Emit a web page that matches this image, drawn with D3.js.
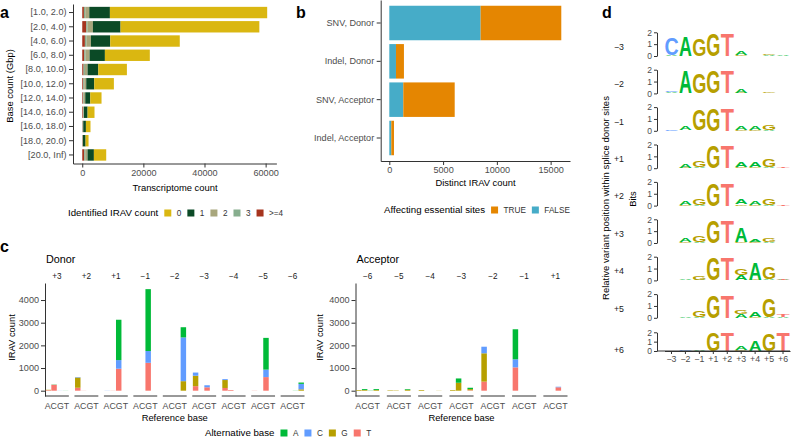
<!DOCTYPE html>
<html><head><meta charset="utf-8">
<script src="https://cdn.jsdelivr.net/npm/d3@7"></script>
<style>body{margin:0;background:#fff;} svg{display:block;}</style>
</head><body>
<script>
// ---------- data ----------
// panel a
const sizeBins = ["[1.0, 2.0)","[2.0, 4.0)","[4.0, 6.0)","[6.0, 8.0)","[8.0, 10.0)","[10.0, 12.0)","[12.0, 14.0)","[14.0, 16.0)","[16.0, 18.0)","[18.0, 20.0)","[20.0, Inf)"];
const irav0 = [51460, 45415, 22750, 14700, 9370, 6430, 3690, 2260, 1500, 970, 4030];
const irav1 = [6750, 9040, 6320, 5010, 3490, 2610, 1630, 1200, 870, 870, 2070];
const irav2 = [1310, 1740, 1420, 1310, 870, 650, 550, 220, 110, 60, 760];
const irav3 = [440, 440, 550, 440, 440, 330, 220, 110, 110, 50, 330];
const irav4 = [550, 1310, 870, 650, 440, 330, 220, 220, 110, 110, 650];
const iravKeys = ["0", "1", "2", "3", ">=4"];
const aTicks = [0, 20000, 40000, 60000];

// panel b
const variantTypes = ["SNV, Donor", "Indel, Donor", "SNV, Acceptor", "Indel, Acceptor"];
const essentialFalse = [8490, 620, 1300, 185];
const essentialTrue = [7500, 740, 4780, 250];
const bTicks = [0, 5000, 10000, 15000];

// panel c
const bases = ["A", "C", "G", "T"];
const donorPositions = ["+3", "+2", "+1", "\u22121", "\u22122", "\u22123", "\u22124", "\u22125", "\u22126"];
const acceptorPositions = ["\u22126", "\u22125", "\u22124", "\u22123", "\u22122", "\u22121", "+1"];
// pos, reference slot, counts of alternative bases
const donorBars = [
  {pos: "+3", ref: "A", A: 0, C: 0, G: 15, T: 25},
  {pos: "+3", ref: "C", A: 10, C: 0, G: 0, T: 260},
  {pos: "+3", ref: "G", A: 0, C: 12, G: 0, T: 0},
  {pos: "+3", ref: "T", A: 12, C: 0, G: 0, T: 0},
  {pos: "+2", ref: "A", A: 0, C: 20, G: 450, T: 130},
  {pos: "+2", ref: "C", A: 0, C: 0, G: 0, T: 15},
  {pos: "+1", ref: "A", A: 0, C: 20, G: 0, T: 0},
  {pos: "+1", ref: "C", A: 0, C: 0, G: 0, T: 20},
  {pos: "+1", ref: "G", A: 1780, C: 380, G: 0, T: 970},
  {pos: "\u22121", ref: "G", A: 2730, C: 520, G: 0, T: 1230},
  {pos: "\u22122", ref: "T", A: 450, C: 1930, G: 420, T: 0},
  {pos: "\u22123", ref: "A", A: 0, C: 140, G: 460, T: 200},
  {pos: "\u22123", ref: "G", A: 0, C: 90, G: 0, T: 150},
  {pos: "\u22124", ref: "A", A: 0, C: 40, G: 350, T: 120},
  {pos: "\u22124", ref: "C", A: 0, C: 0, G: 0, T: 30},
  {pos: "\u22125", ref: "A", A: 0, C: 0, G: 0, T: 20},
  {pos: "\u22125", ref: "G", A: 1400, C: 330, G: 0, T: 600},
  {pos: "\u22126", ref: "G", A: 20, C: 0, G: 0, T: 0},
  {pos: "\u22126", ref: "T", A: 60, C: 240, G: 60, T: 0}
];
const acceptorBars = [
  {pos: "\u22126", ref: "A", A: 0, C: 0, G: 30, T: 0},
  {pos: "\u22126", ref: "C", A: 40, C: 0, G: 30, T: 0},
  {pos: "\u22126", ref: "G", A: 30, C: 0, G: 0, T: 0},
  {pos: "\u22126", ref: "T", A: 40, C: 0, G: 30, T: 0},
  {pos: "\u22125", ref: "A", A: 0, C: 0, G: 20, T: 0},
  {pos: "\u22125", ref: "C", A: 0, C: 0, G: 15, T: 0},
  {pos: "\u22125", ref: "T", A: 30, C: 0, G: 40, T: 0},
  {pos: "\u22124", ref: "A", A: 0, C: 0, G: 30, T: 0},
  {pos: "\u22124", ref: "T", A: 0, C: 0, G: 20, T: 0},
  {pos: "\u22123", ref: "A", A: 0, C: 0, G: 30, T: 0},
  {pos: "\u22123", ref: "C", A: 190, C: 0, G: 350, T: 0},
  {pos: "\u22123", ref: "T", A: 60, C: 0, G: 50, T: 20},
  {pos: "\u22122", ref: "A", A: 0, C: 290, G: 1250, T: 400},
  {pos: "\u22121", ref: "A", A: 1325, C: 355, G: 0, T: 1030},
  {pos: "+1", ref: "G", A: 0, C: 25, G: 0, T: 150}
];
// near-zero bars drawn pale in the original
const paleBars = ["+3|G", "+3|T", "+2|C", "+1|A", "+1|C", "\u22125|A", "\u22126|G", "a\u22126|G", "a\u22124|T"];
const cTicks = [0, 1000, 2000, 3000, 4000];

// panel d (bits per letter, bottom to top)
const logoPositions = ["\u22123", "\u22122", "\u22121", "+1", "+2", "+3", "+4", "+5", "+6"];
const logoRows = ["\u22123", "\u22122", "\u22121", "+1", "+2", "+3", "+4", "+5", "+6"];
const logoStacks = [
  [[["A",.06],["C",1.5]], [["G",.04],["A",1.72]], [["A",.04],["G",1.45]], [["G",1.92]], [["T",1.95]], [["G",.06],["A",.28]], [["A",.04]], [["A",.05],["G",.14]], [["C",.03],["A",.05]]],
  [[["A",.12],["C",.15]], [["G",.04],["A",1.85]], [["A",.04],["G",1.65]], [["G",1.93]], [["T",1.95]], [["G",.06],["A",.33]], [["A",.04]], [["A",.03],["G",.05]], [["A",.03]]],
  [[["C",.05]], [["G",.04],["A",.35]], [["A",.04],["G",1.75]], [["G",1.94]], [["T",1.95]], [["G",.1],["A",.28]], [["G",.05],["A",.28]], [["A",.08],["G",.4]], [["A",.04]]],
  [[["A",.04]], [["G",.05],["A",.3]], [["A",.06],["G",.55]], [["G",1.9]], [["T",1.95]], [["G",.1],["A",.42]], [["G",.06],["A",.38]], [["A",.08],["G",.62]], [["T",.08]]],
  [[["A",.04]], [["G",.05],["A",.33]], [["A",.06],["G",.58]], [["G",1.9]], [["T",1.95]], [["G",.1],["A",.42]], [["G",.06],["A",.35]], [["A",.08],["G",.55]], [["T",.06]]],
  [[["A",.04]], [["G",.05],["A",.28]], [["A",.06],["G",.55]], [["G",1.9]], [["T",1.95]], [["G",.12],["A",1.2]], [["G",.05],["A",.22]], [["A",.06],["G",.28]], [["A",.04]]],
  [[["A",.03]], [["A",.05]], [["A",.06],["G",.35]], [["G",1.95]], [["T",1.95]], [["A",.45],["G",.5]], [["G",.06],["A",1.42]], [["A",.08],["G",1.05]], [["A",.06],["T",.15]]],
  [[["A",.03]], [["A",.1]], [["A",.08],["G",.5]], [["G",1.95]], [["T",1.95]], [["A",.3],["G",.35]], [["G",.05],["A",.42]], [["A",.06],["G",1.6]], [["A",.06],["T",.2]]],
  [[["A",.02]], [["C",.06]], [["A",.1]], [["G",1.95]], [["T",1.95]], [["G",.15],["A",.38]], [["G",.05],["A",1.15]], [["A",.04],["G",1.9]], [["T",1.95]]]
];

// ---------- setup ----------
const FONT = "'Liberation Sans', Arial, Helvetica, sans-serif";
const svg = d3.select("body").append("svg")
  .attr("width", 796).attr("height", 438)
  .attr("font-family", FONT)
  .style("background", "#fff");

const iravColors = {"0": "#DAB711", "1": "#0B4A26", "2": "#A8A67C", "3": "#87AE8E", ">=4": "#A6341E"};
const essColors = {"TRUE": "#E58601", "FALSE": "#46ACC8"};
const baseColors = {A: "#00BA38", C: "#619CFF", G: "#B79F00", T: "#F8766D"};
const TICK = 9.1;

function styleAxis(g, size) {
  g.attr("font-family", FONT).attr("font-size", size).attr("color", "#333");
  g.selectAll(".tick text").attr("fill", "#4d4d4d");
}

function addText(x, y, txt, size, opts) {
  opts = opts || {};
  const t = svg.append("text")
    .attr("x", x).attr("y", y)
    .attr("font-size", size)
    .attr("fill", opts.fill || "#000")
    .attr("text-anchor", opts.anchor || "start")
    .attr("font-weight", opts.bold ? "bold" : null)
    .text(txt);
  if (opts.rotate) t.attr("transform", "rotate(-90," + x + "," + y + ")");
  return t;
}

function legend(x, y, title, items) {
  const t = addText(x, y + 3.3, title, 9.7);
  let cx = x + t.node().getComputedTextLength() + 6;
  items.forEach(function (it) {
    svg.append("rect").attr("x", cx).attr("y", y - 3.5).attr("width", 7).attr("height", 7).attr("fill", it[1]);
    cx += 12.5;
    const tt = addText(cx, y + 2.9, it[0], 8.2, {fill: "#333"});
    cx += tt.node().getComputedTextLength() + 6;
  });
}

// ---------- panel a ----------
const xA = d3.scaleLinear().domain([-3025, 63525]).range([73, 276.4]);
const yA = d3.scaleBand().domain(sizeBins).range([4, 163.5]).paddingInner(0.2).paddingOuter(0.2);
const rowsA = sizeBins.map(function (b, i) {
  return {bin: b, "0": irav0[i], "1": irav1[i], "2": irav2[i], "3": irav3[i], ">=4": irav4[i]};
});
const stackA = d3.stack().keys([">=4", "3", "2", "1", "0"])(rowsA);
svg.append("g").selectAll("g").data(stackA).join("g")
  .attr("fill", function (d) { return iravColors[d.key]; })
  .selectAll("rect").data(function (d) { return d; }).join("rect")
  .attr("x", function (d) { return xA(d[0]); })
  .attr("width", function (d) { return xA(d[1]) - xA(d[0]); })
  .attr("y", function (d) { return yA(d.data.bin); })
  .attr("height", yA.bandwidth());

styleAxis(svg.append("g").attr("transform", "translate(0,163.5)")
  .call(d3.axisBottom(xA).tickValues(aTicks).tickFormat(d3.format("d")).tickSize(4).tickPadding(2).tickSizeOuter(0)), TICK);
styleAxis(svg.append("g").attr("transform", "translate(73,0)")
  .call(d3.axisLeft(yA).tickSize(4).tickPadding(2.5).tickSizeOuter(0)), TICK);
addText(175, 190.6, "Transcriptome count", 9.4, {anchor: "middle"});
addText(13.4, 86, "Base count (Gbp)", 9.4, {anchor: "middle", rotate: true});
addText(0, 18, "a", 16, {bold: true});
legend(68, 213, "Identified IRAV count", iravKeys.map(function (k) { return [k, iravColors[k]]; }));

// ---------- panel b ----------
const xB = d3.scaleLinear().domain([-800, 16800]).range([380.7, 570]);
const yB = d3.scaleBand().domain(variantTypes).range([0, 161]).paddingInner(0.1).paddingOuter(0.15);
const rowsB = variantTypes.map(function (v, i) {
  return {type: v, "FALSE": essentialFalse[i], "TRUE": essentialTrue[i]};
});
const stackB = d3.stack().keys(["FALSE", "TRUE"])(rowsB);
svg.append("g").selectAll("g").data(stackB).join("g")
  .attr("fill", function (d) { return essColors[d.key]; })
  .selectAll("rect").data(function (d) { return d; }).join("rect")
  .attr("x", function (d) { return xB(d[0]); })
  .attr("width", function (d) { return xB(d[1]) - xB(d[0]); })
  .attr("y", function (d) { return yB(d.data.type); })
  .attr("height", yB.bandwidth());
styleAxis(svg.append("g").attr("transform", "translate(0,161)")
  .call(d3.axisBottom(xB).tickValues(bTicks).tickFormat(d3.format("d")).tickSize(4).tickPadding(2).tickSizeOuter(0)), TICK);
styleAxis(svg.append("g").attr("transform", "translate(380.7,0)")
  .call(d3.axisLeft(yB).tickSize(4).tickPadding(2.5).tickSizeOuter(0)), TICK);
addText(475.5, 186.3, "Distinct IRAV count", 9.4, {anchor: "middle"});
addText(296, 18, "b", 16, {bold: true});
legend(384, 210, "Affecting essential sites", [["TRUE", essColors.TRUE], ["FALSE", essColors.FALSE]]);

// ---------- panel c ----------
const yC = d3.scaleLinear().domain([-234, 4751]).range([396, 283]);

function drawSplice(positions, bars, range, pad, title, prefix) {
  const outer = d3.scaleBand().domain(positions).range(range).paddingInner(pad);
  const bw = outer.bandwidth();
  const inner = d3.scaleBand().domain(bases).range([0, bw]).paddingInner(0.05).paddingOuter(0.1);

  styleAxis(svg.append("g").attr("transform", "translate(" + range[0] + ",0)")
    .call(d3.axisLeft(yC).tickValues(cTicks).tickFormat(d3.format("d")).tickSize(4).tickPadding(2).tickSizeOuter(0)), TICK);

  positions.forEach(function (p) {
    const x0 = outer(p);
    svg.append("line").attr("x1", x0).attr("x2", x0 + bw).attr("y1", 396).attr("y2", 396)
      .attr("stroke", "#333").attr("stroke-width", 1);
    addText(x0 + bw / 2, 279, p, 8.2, {anchor: "middle", fill: "#1a1a1a"});
    addText(x0 + bw / 2, 409.3, "ACGT", 8.8, {anchor: "middle", fill: "#4d4d4d"});
  });

  const stackC = d3.stack().keys(["T", "G", "C", "A"])(bars);
  svg.append("g").selectAll("g").data(stackC).join("g")
    .attr("fill", function (d) { return baseColors[d.key]; })
    .selectAll("rect").data(function (d) { return d; }).join("rect")
    .attr("x", function (d) { return outer(d.data.pos) + inner(d.data.ref); })
    .attr("width", inner.bandwidth())
    .attr("y", function (d) { return yC(d[1]); })
    .attr("height", function (d) { return yC(d[0]) - yC(d[1]); })
    .attr("opacity", function (d) {
      return paleBars.indexOf(prefix + d.data.pos + "|" + d.data.ref) >= 0 ? 0.3 : 1;
    });

  addText(range[0] + 1, 263, title, 10.8);
  addText((range[0] + range[1]) / 2, 421.3, "Reference base", 9.4, {anchor: "middle"});
}

drawSplice(donorPositions, donorBars, [45, 304.5], 0.19, "Donor", "");
drawSplice(acceptorPositions, acceptorBars, [355.5, 567.5], 0.23, "Acceptor", "a");
addText(15.2, 337.5, "IRAV count", 9.4, {anchor: "middle", rotate: true});
addText(323.4, 337.5, "IRAV count", 9.4, {anchor: "middle", rotate: true});
addText(0, 252, "c", 16, {bold: true});
legend(205, 433, "Alternative base", bases.map(function (b) { return [b, baseColors[b]]; }));

// ---------- panel d ----------
const xD = d3.scaleBand().domain(logoPositions).range([664.5, 790]).paddingInner(0.1).paddingOuter(0.05);
const inkWidth = {A: 0.70, C: 0.64, G: 0.69, T: 0.58};
const capH = 0.716;

logoRows.forEach(function (row, i) {
  const last = i === logoRows.length - 1;
  const zero = last ? 351 : 56 + i * 37.4;
  const yD = d3.scaleLinear().domain([0, 2]).range([zero, zero - (last ? 18.7 : 23.7)]);
  styleAxis(svg.append("g").attr("transform", "translate(657,0)")
    .call(d3.axisLeft(yD).tickValues([0, 1, 2]).tickFormat(d3.format("d")).tickSize(3).tickPadding(2).tickSizeOuter(0)), 8.6);
  addText(619, last ? 353 : 49.7 + i * 37.4, row, 8.8, {anchor: "middle", fill: "#1a1a1a"});

  logoStacks[i].forEach(function (col, j) {
    let acc = 0;
    const cx = xD(logoPositions[j]) + xD.bandwidth() / 2;
    col.forEach(function (lt) {
      const yb = yD(acc), yt = yD(acc + lt[1]);
      acc += lt[1];
      const h = yb - yt;
      if (h < 0.4) return;
      const sx = xD.bandwidth() / (inkWidth[lt[0]] * 100);
      const sy = h / (capH * 100);
      svg.append("text")
        .attr("transform", "translate(" + cx + "," + yb + ") scale(" + sx + "," + sy + ")")
        .attr("text-anchor", "middle")
        .attr("font-size", 100)
        .attr("font-weight", "bold")
        .attr("fill", baseColors[lt[0]])
        .text(lt[0]);
    });
  });

  if (last) {
    styleAxis(svg.append("g").attr("transform", "translate(0," + zero + ")")
      .call(d3.axisBottom(xD).tickSize(3).tickPadding(2).tickSizeOuter(0)), 8.8);
    svg.append("line").attr("x1", 657).attr("x2", 790).attr("y1", zero).attr("y2", zero)
      .attr("stroke", "#333");
  }
});
addText(636, 199, "Bits", 9.4, {anchor: "middle", rotate: true});
addText(609, 198, "Relative variant position within splice donor sites", 9.5, {anchor: "middle", rotate: true});
addText(602, 18, "d", 16, {bold: true});
</script>
</body></html>
